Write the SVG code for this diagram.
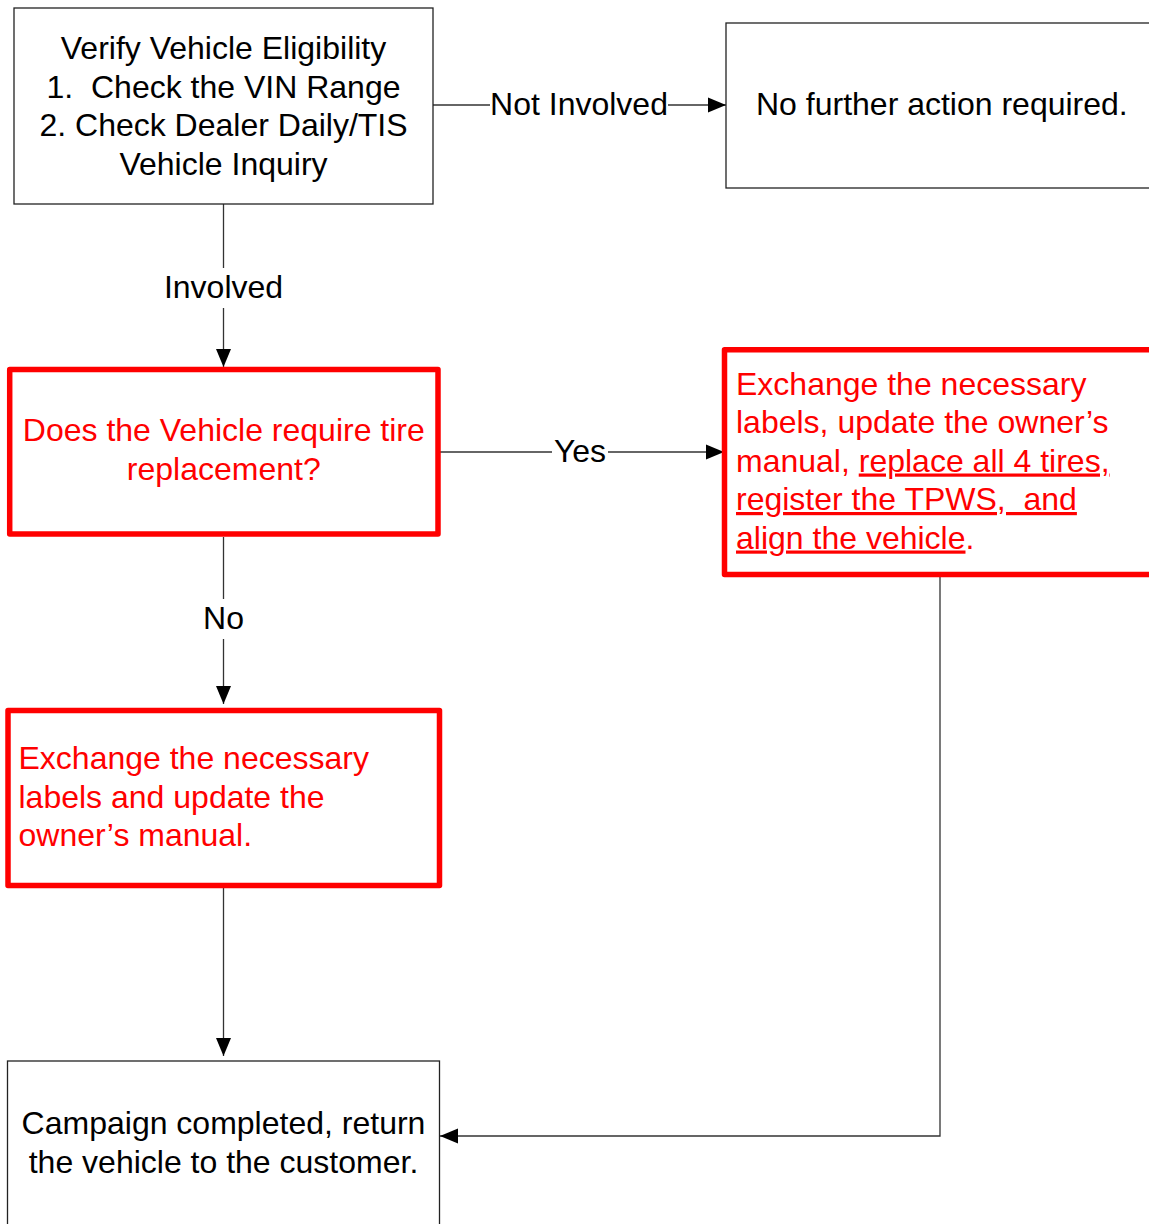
<svg xmlns="http://www.w3.org/2000/svg" width="1149" height="1224" viewBox="0 0 1149 1224">
<style>
text{font-family:"Liberation Sans",Arial,sans-serif;font-size:32px;fill:#000}
.red{fill:#ff0000}
.box{fill:#fff;stroke:#222;stroke-width:1.3}
.rbox{fill:#fff;stroke:#ff0000;stroke-width:5.5;stroke-linejoin:round}
.conn{fill:none;stroke:#333;stroke-width:1.3}
.u{text-decoration:underline}
</style>
<defs>
<marker id="arr" markerUnits="userSpaceOnUse" markerWidth="19" markerHeight="15" refX="18" refY="7.5" orient="auto" overflow="visible">
<path d="M0,0 L18,7.5 L0,15 Z" fill="#000"/>
</marker>
</defs>
<rect width="1149" height="1224" fill="#fff"/>
<g id="connectors">
<path class="conn" d="M433,105 H490"/>
<path class="conn" d="M668,105 H726" marker-end="url(#arr)"/>
<path class="conn" d="M223.5,204 V268"/>
<path class="conn" d="M223.5,308 V367" marker-end="url(#arr)"/>
<path class="conn" d="M438,452 H552"/>
<path class="conn" d="M608,452 H724" marker-end="url(#arr)"/>
<path class="conn" d="M223.5,537 V599"/>
<path class="conn" d="M223.5,639 V704" marker-end="url(#arr)"/>
<path class="conn" d="M223.5,888 V1056" marker-end="url(#arr)"/>
<path class="conn" d="M940,577 V1136 H440" marker-end="url(#arr)"/>
<text x="579" y="114.5" text-anchor="middle">Not Involved</text>
<text x="223.5" y="298" text-anchor="middle">Involved</text>
<text x="580" y="462" text-anchor="middle">Yes</text>
<text x="223.5" y="629" text-anchor="middle">No</text>
</g>
<g id="verify">
<rect class="box" x="14" y="8" width="419" height="196"/>
<text x="223.5" y="59" text-anchor="middle" xml:space="preserve">Verify Vehicle Eligibility</text>
<text x="223.5" y="97.5" text-anchor="middle" xml:space="preserve">1.  Check the VIN Range</text>
<text x="223.5" y="136" text-anchor="middle" xml:space="preserve">2. Check Dealer Daily/TIS</text>
<text x="223.5" y="174.5" text-anchor="middle" xml:space="preserve">Vehicle Inquiry</text>
</g>
<g id="no-action">
<rect class="box" x="726" y="23" width="440" height="165"/>
<text x="756" y="115">No further action required.</text>
</g>
<g id="decision">
<rect class="rbox" x="9.7" y="369.5" width="428.3" height="164.5"/>
<text class="red" x="223.8" y="441" text-anchor="middle">Does the Vehicle require tire</text>
<text class="red" x="223.8" y="479.5" text-anchor="middle">replacement?</text>
</g>
<g id="replace-tires">
<rect class="rbox" x="724.5" y="349.7" width="440" height="224.8"/>
<text class="red" x="736" y="394.5">Exchange the necessary</text>
<text class="red" x="736" y="433">labels, update the owner’s</text>
<text class="red" x="736" y="471.5" xml:space="preserve">manual, <tspan class="u">replace all 4 tires,</tspan></text>
<text class="red" x="736" y="510" xml:space="preserve"><tspan class="u">register the TPWS,  and</tspan></text>
<text class="red" x="736" y="548.5" xml:space="preserve"><tspan class="u">align the vehicle</tspan>.</text>
</g>
<g id="labels-only">
<rect class="rbox" x="8" y="710.5" width="431.5" height="175"/>
<text class="red" x="18.5" y="769">Exchange the necessary</text>
<text class="red" x="18.5" y="807.5">labels and update the</text>
<text class="red" x="18.5" y="846">owner’s manual.</text>
</g>
<g id="complete">
<rect class="box" x="7.5" y="1061" width="432" height="180"/>
<text x="223.5" y="1134" text-anchor="middle">Campaign completed, return</text>
<text x="223.5" y="1172.5" text-anchor="middle">the vehicle to the customer.</text>
</g>
</svg>
